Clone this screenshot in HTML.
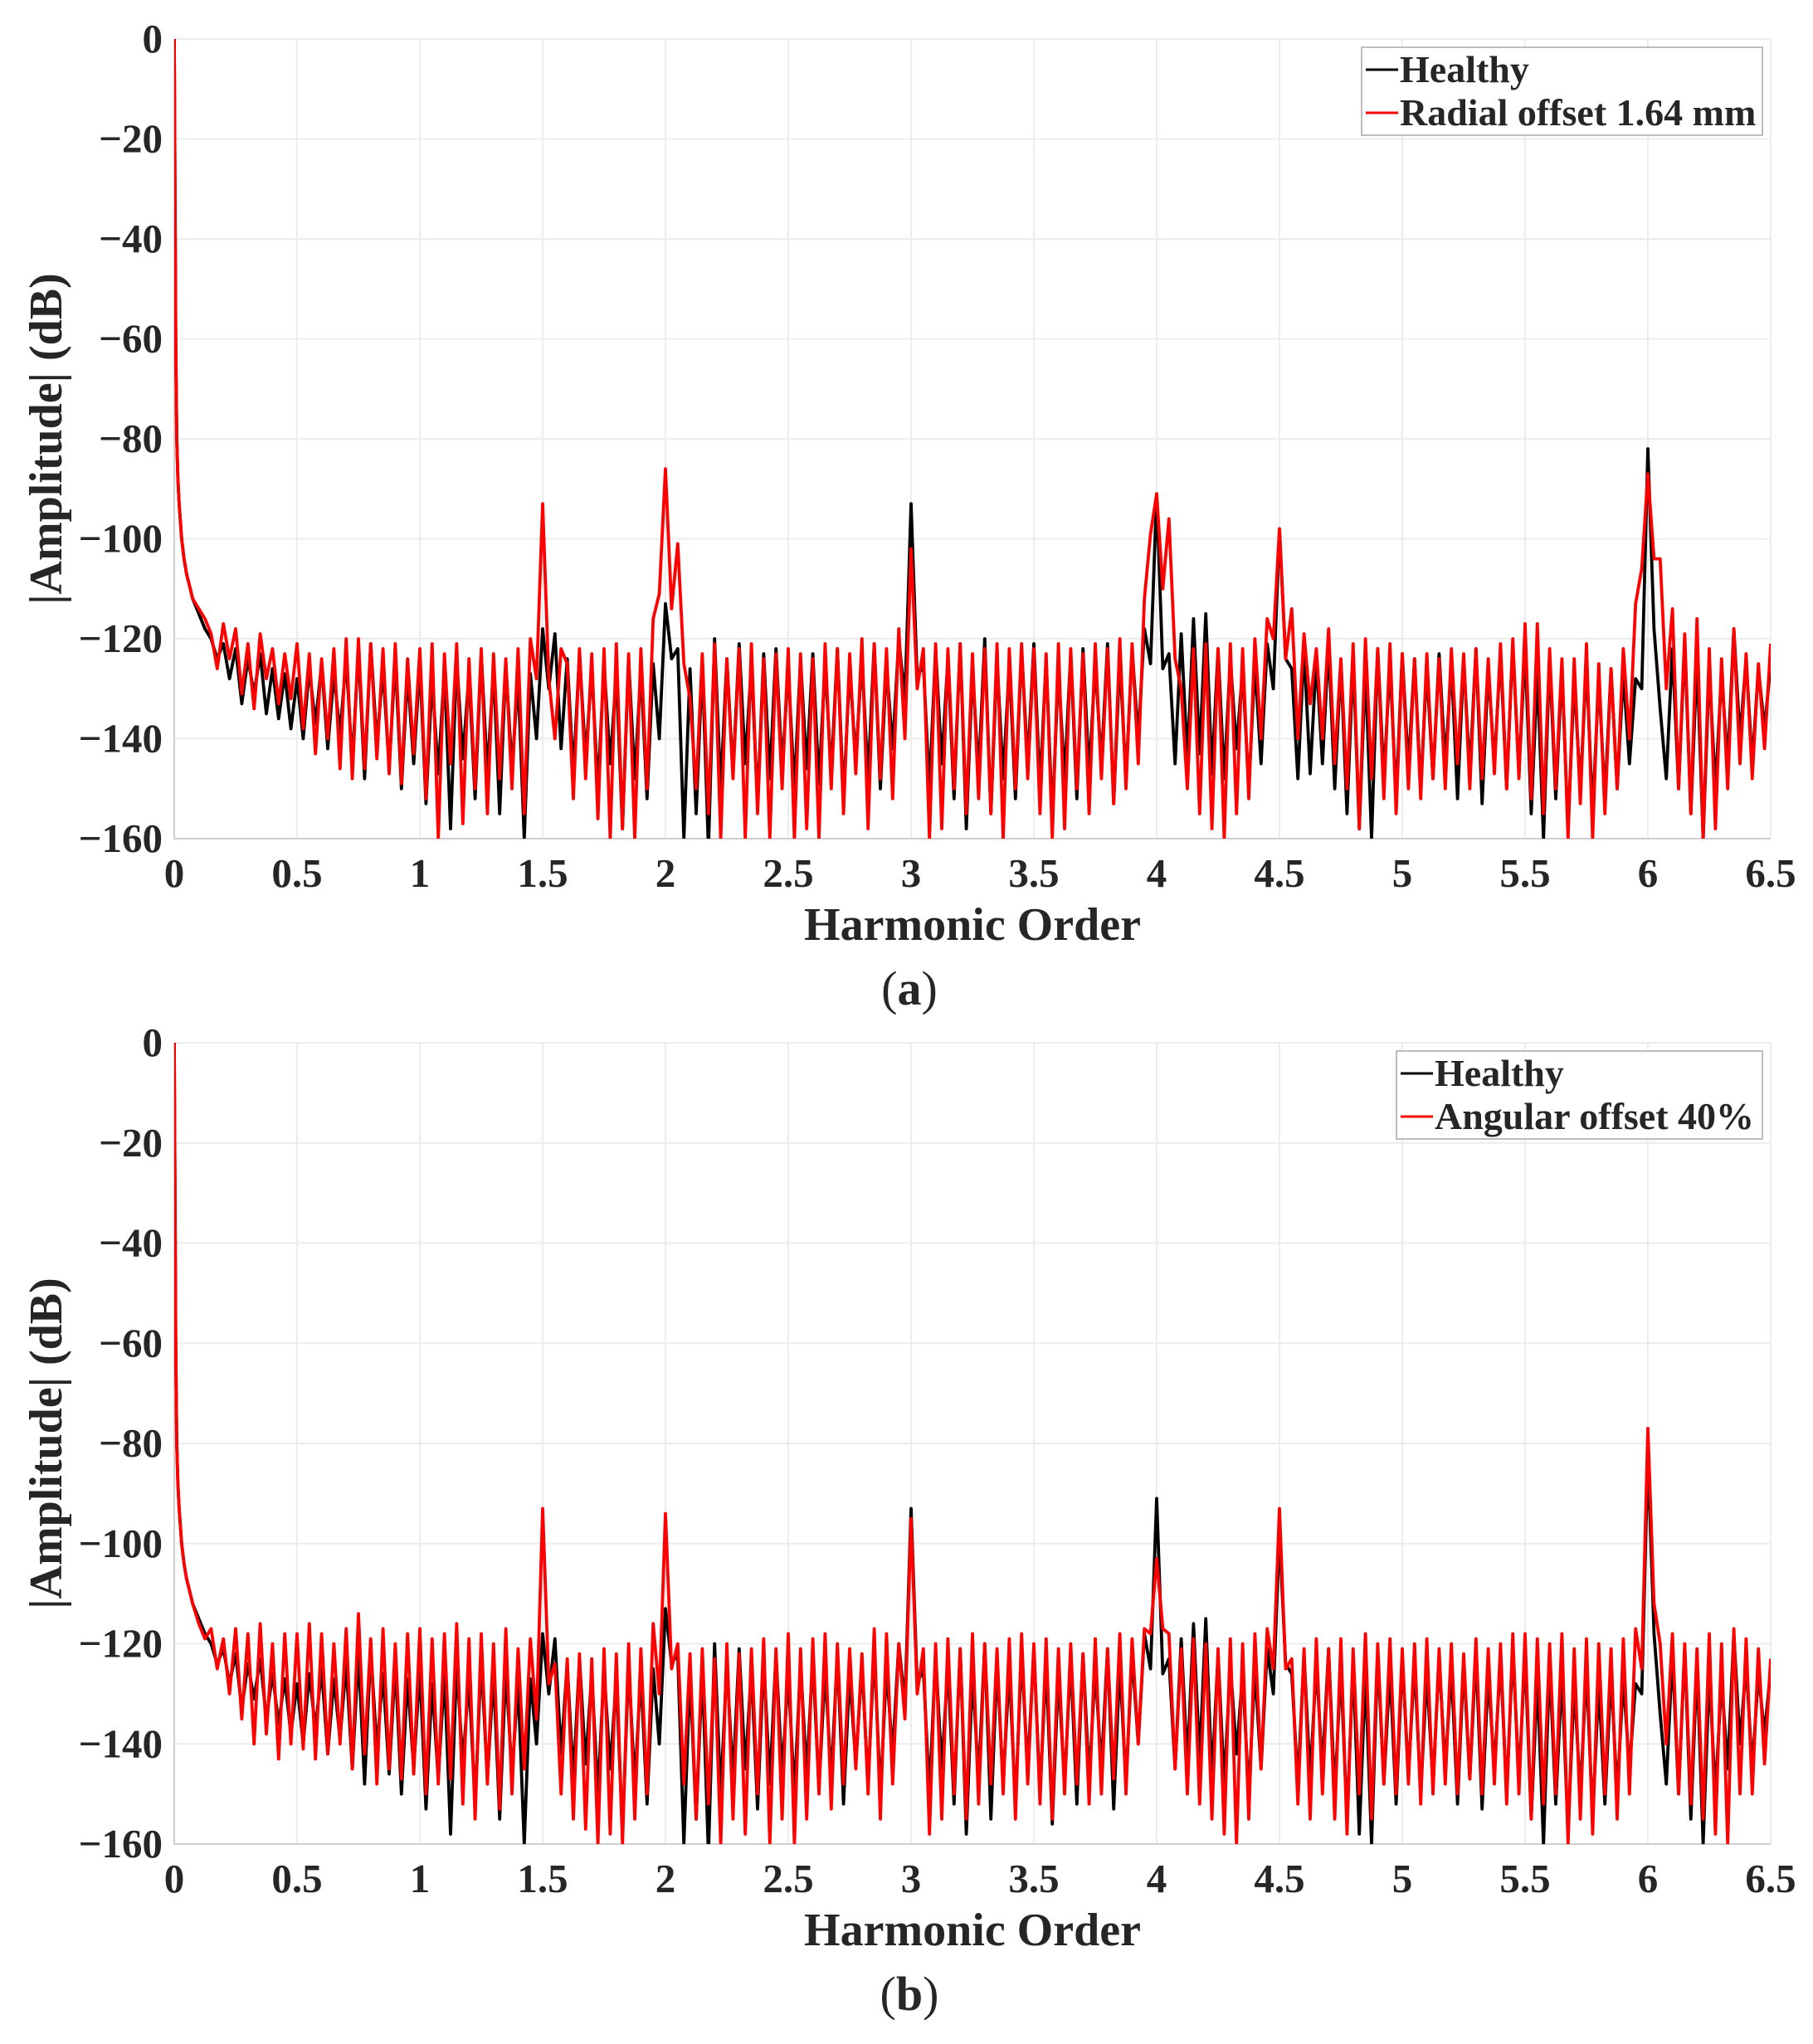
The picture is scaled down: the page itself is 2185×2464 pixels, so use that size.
<!DOCTYPE html>
<html><head><meta charset="utf-8">
<style>
html,body{margin:0;padding:0;background:#fff;}
svg{display:block;}
text{font-family:"Liberation Serif",serif;font-weight:bold;fill:#262626;}
</style></head>
<body>
<svg id="fig" width="2185" height="2464" viewBox="0 0 2185 2464" xmlns="http://www.w3.org/2000/svg"></svg>
<script>
// ---- data ----
const headX = [0,0.003,0.006,0.01,0.015,0.02,0.03,0.04,0.05,0.06,0.075];
const headVals = [0,-30,-60,-80,-88,-93,-100,-104,-107,-109,-112];
const gridStart = 0.1, gridStep = 0.025;
const healthy = [
-115,-118,-120,-124,-121,-128,-122,-133,-124,-131,-123,-135,-126,-136,-127,-138,
-128,-140,-126,-137,-125,-142,-127,-139,-124,-145,-122,-148,-121,-141,-126,-146,-124,-150,-127,-145,
-125,-153,-128,-147,-126,-158,-124,-144,-127,-152,-123,-147,-126,-155,-125,-146,-128,-160,-127,-140,
-118,-130,-119,-142,-124,-147,-123,-144,-126,-150,-125,-145,-127,-158,-124,-148,-126,-152,-125,-140,
-113,-124,-122,-160,-126,-155,-125,-162,-120,-150,-124,-147,-121,-145,-125,-153,-123,-148,-122,-146,
-126,-150,-124,-146,-123,-149,-125,-147,-122,-152,-126,-144,-124,-148,-121,-150,-125,-142,-120,-132,
-93,-128,-125,-150,-122,-145,-124,-152,-121,-158,-126,-147,-120,-155,-124,-148,-125,-152,-122,-145,
-121,-150,-124,-156,-126,-148,-123,-152,-122,-147,-125,-145,-121,-153,-124,-148,-122,-140,-118,-125,
-91,-126,-123,-145,-119,-144,-116,-143,-115,-147,-122,-148,-124,-142,-126,-150,-125,-145,-121,-130,
-98,-124,-126,-148,-122,-147,-124,-145,-121,-150,-125,-155,-124,-158,-126,-160,-122,-148,-125,-152,
-123,-146,-124,-150,-126,-148,-123,-145,-125,-152,-124,-147,-122,-153,-126,-145,-123,-150,-121,-147,
-122,-155,-127,-160,-124,-152,-126,-158,-128,-150,-125,-155,-128,-152,-126,-150,-127,-145,-128,-130,
-82,-118,-134,-148,-122,-150,-121,-155,-124,-160,-126,-150,-127,-145,-118,-140,-124,-145,-126,-138,
-125];
const radial = [
-114,-116,-119,-126,-117,-124,-118,-131,-121,-134,-119,-128,-122,-133,-123,-132,
-121,-138,-123,-143,-124,-140,-122,-146,-120,-148,-120,-146,-121,-144,-122,-147,-121,-149,-124,-143,
-122,-152,-121,-160,-123,-145,-121,-157,-124,-150,-122,-155,-123,-148,-124,-150,-122,-155,-120,-128,
-93,-128,-140,-122,-125,-152,-122,-148,-123,-156,-122,-160,-121,-158,-123,-160,-122,-150,-116,-111,
-86,-114,-101,-125,-132,-150,-123,-155,-121,-160,-124,-148,-122,-160,-121,-155,-124,-160,-123,-150,
-122,-160,-123,-158,-124,-160,-121,-150,-122,-155,-123,-147,-120,-158,-121,-148,-122,-152,-118,-140,
-102,-130,-122,-160,-121,-158,-122,-150,-121,-155,-123,-152,-122,-155,-121,-160,-122,-150,-121,-148,
-122,-155,-123,-160,-121,-158,-122,-150,-123,-155,-121,-148,-122,-153,-120,-150,-121,-145,-112,-99,
-91,-110,-96,-124,-130,-150,-122,-155,-121,-158,-122,-160,-121,-155,-122,-152,-120,-140,-116,-120,
-98,-124,-114,-140,-119,-133,-122,-140,-118,-145,-124,-150,-121,-158,-120,-148,-122,-152,-121,-155,
-123,-150,-124,-152,-123,-148,-124,-150,-122,-145,-123,-150,-122,-148,-124,-147,-121,-150,-120,-148,
-117,-152,-117,-155,-122,-150,-124,-160,-124,-153,-121,-160,-125,-155,-126,-150,-122,-140,-113,-106,
-87,-104,-104,-130,-114,-150,-119,-155,-116,-160,-122,-158,-124,-150,-118,-145,-123,-148,-125,-142,
-121];
const angular = [
-116,-119,-117,-125,-119,-130,-117,-135,-118,-140,-116,-138,-120,-143,-118,-140,
-118,-141,-116,-143,-118,-142,-120,-140,-117,-145,-114,-142,-119,-148,-117,-145,-120,-147,-118,-146,
-117,-150,-119,-148,-118,-147,-116,-152,-119,-155,-118,-148,-120,-153,-117,-150,-121,-145,-119,-135,
-93,-128,-124,-150,-123,-155,-122,-157,-123,-160,-121,-158,-122,-160,-120,-155,-121,-150,-116,-130,
-94,-125,-120,-148,-122,-155,-121,-152,-123,-160,-120,-155,-122,-158,-121,-150,-119,-160,-121,-155,
-118,-160,-121,-155,-119,-150,-118,-153,-120,-148,-121,-145,-122,-150,-117,-155,-118,-148,-120,-135,
-95,-130,-121,-158,-120,-155,-119,-150,-121,-155,-118,-152,-120,-148,-121,-150,-119,-155,-118,-148,
-120,-152,-119,-155,-121,-150,-120,-148,-122,-152,-119,-150,-121,-147,-118,-150,-119,-140,-117,-118,
-103,-117,-118,-145,-121,-150,-119,-152,-120,-155,-121,-158,-119,-160,-120,-155,-118,-145,-117,-125,
-93,-125,-123,-152,-121,-155,-119,-150,-121,-155,-119,-158,-121,-150,-118,-155,-120,-148,-119,-150,
-121,-148,-120,-152,-119,-150,-121,-148,-120,-150,-122,-147,-119,-150,-121,-148,-120,-152,-118,-150,
-118,-155,-119,-152,-120,-150,-118,-160,-121,-155,-119,-158,-120,-150,-121,-155,-119,-150,-117,-125,
-77,-112,-120,-140,-118,-150,-120,-152,-121,-155,-118,-158,-120,-160,-117,-150,-119,-150,-121,-144,
-123];
const xTicks = [0,0.5,1,1.5,2,2.5,3,3.5,4,4.5,5,5.5,6,6.5];
const xTickLabels = ["0","0.5","1","1.5","2","2.5","3","3.5","4","4.5","5","5.5","6","6.5"];
const yTicks = [0,-20,-40,-60,-80,-100,-120,-140,-160];
const yTickLabels = ["0","\u221220","\u221240","\u221260","\u221280","\u2212100","\u2212120","\u2212140","\u2212160"];

const NS = "http://www.w3.org/2000/svg";
const svg = document.getElementById('fig');
function mk(tag, attrs, parent){
  const e = document.createElementNS(NS, tag);
  for (const k in attrs) e.setAttribute(k, attrs[k]);
  (parent||svg).appendChild(e);
  return e;
}
const X0 = 210, X1 = 2134;
function xs(v){ return X0 + (v/6.5)*(X1-X0); }
function xsOf(arr){
  const out = headX.slice();
  for (let i=0;i<arr.length;i++) out.push(gridStart + i*gridStep);
  return out;
}
function drawPanel(idx, yTop, yBot, redSeries, redName, letter, legBox){
  const ys = v => yTop + (v/-160)*(yBot-yTop);
  const g = mk('g', {});
  
  
  for (const t of xTicks){
    const l = mk('line', {x1:xs(t), x2:xs(t), y1:yTop, y2:yBot, stroke:'#ececec', 'stroke-width':2}, g);
    
    
  }
  for (const t of yTicks){
    const l = mk('line', {x1:X0, x2:X1, y1:ys(t), y2:ys(t), stroke:'#ececec', 'stroke-width':2}, g);
    
    
  }
  const ax = mk('path', {d:`M${X0} ${yTop} V${yBot} H${X1}`, stroke:'#cfcfcf', 'stroke-width':2, fill:'none'}, g);
  
  
  const cp = mk('clipPath', {id:'clip'+idx}, g);
  mk('rect', {x:X0, y:yTop-2, width:X1-X0, height:yBot-yTop+2}, cp);
  const series = [[healthy,'#000','healthy-line'],[redSeries,'#ff0000',redName+'-line']];
  for (const [arr,col,nm] of series){
    const xv = xsOf(arr);
    const yv = headVals.concat(arr);
    let d = '';
    for (let i=0;i<xv.length;i++) d += (i?'L':'M') + xs(xv[i]).toFixed(1) + ' ' + ys(yv[i]).toFixed(1);
    const p = mk('path', {d:d, stroke:col, 'stroke-width':3.8, fill:'none', 'stroke-linejoin':'round', 'clip-path':`url(#clip${idx})`}, g);
    
    
  }
  for (let i=0;i<xTicks.length;i++){
    const t = mk('text', {x:xs(xTicks[i]), y:yBot+58, 'text-anchor':'middle', 'font-size':49}, g);
    t.textContent = xTickLabels[i];
    
    
  }
  for (let i=0;i<yTicks.length;i++){
    const t = mk('text', {x:196, y:ys(yTicks[i])+16, 'text-anchor':'end', 'font-size':49}, g);
    t.textContent = yTickLabels[i];
    
    
  }
  const xt = mk('text', {x:(X0+X1)/2, y:yBot+122, 'text-anchor':'middle', 'font-size':56}, g);
  xt.textContent = 'Harmonic Order';
  
  
  const yc = (yTop+yBot)/2;
  const yt = mk('text', {x:74, y:yc, 'text-anchor':'middle', 'font-size':56, transform:`rotate(-90 74 ${yc})`}, g);
  yt.textContent = '|Amplitude| (dB)';
  
  
  const cap = mk('text', {x:1096, y:yBot+200, 'text-anchor':'middle', 'font-size':58, style:'font-weight:normal'}, g);
  cap.innerHTML = '(<tspan style="font-weight:bold">' + letter + '</tspan>)';
  
  
  const lg = mk('g', {}, g);
  
  
  mk('rect', {x:legBox[0], y:legBox[1], width:legBox[2], height:legBox[3], fill:'#fff', stroke:'#bdbdbd', 'stroke-width':2}, lg);
  const entries = [['Healthy','#000'],[redName==='radial'?'Radial offset 1.64 mm':'Angular offset 40%','#ff0000']];
  for (let i=0;i<2;i++){
    const ey = legBox[1] + 27 + i*52;
    const e = mk('g', {}, lg);
    
    
    mk('line', {x1:legBox[0]+5, x2:legBox[0]+44, y1:ey, y2:ey, stroke:entries[i][1], 'stroke-width':3}, e);
    const t = mk('text', {x:legBox[0]+46, y:ey+15, 'font-size':46}, e);
    t.textContent = entries[i][0];
  }
}
drawPanel(0, 47, 1011, radial, 'radial', 'a', [1641, 57, 483, 106]);
drawPanel(1, 1257, 2223, angular, 'angular', 'b', [1683, 1267, 441, 106]);
</script>
</body></html>
